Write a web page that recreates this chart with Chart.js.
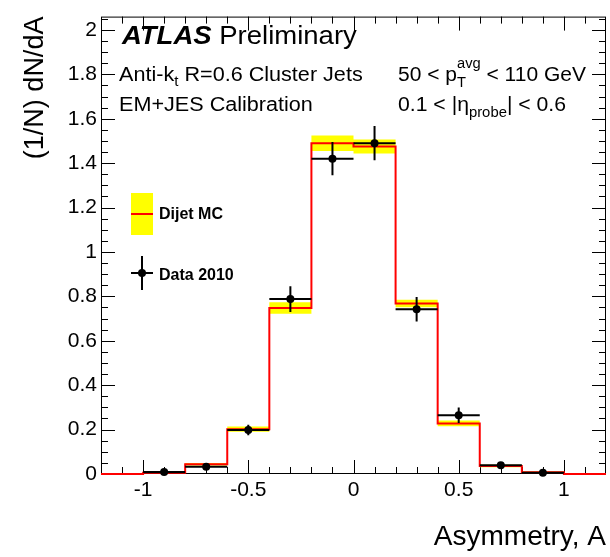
<!DOCTYPE html>
<html>
<head>
<meta charset="utf-8">
<script src="https://cdn.jsdelivr.net/npm/chart.js@4.4.1/dist/chart.umd.min.js"></script>
<style>
  html, body { margin: 0; padding: 0; background: #fff; }
  #wrap { width: 610px; height: 557px; }
</style>
</head>
<body>
<div id="wrap"><canvas id="asym"></canvas></div>
<script>
// histogram bins (asymmetry)
const binEdges = [-1.2, -1.0, -0.8, -0.6, -0.4, -0.2, 0.0, 0.2, 0.4, 0.6, 0.8, 1.0, 1.2];
const mcValues = [0, 0.006, 0.044, 0.202, 0.748, 1.490, 1.475, 0.768, 0.228, 0.036, 0.008, 0];
const mcErrors = [0, 0.002, 0.006, 0.012, 0.026, 0.035, 0.032, 0.017, 0.013, 0.006, 0.003, 0];

// data 2010 points
const dataCenters = [-0.9, -0.7, -0.5, -0.3, -0.1, 0.1, 0.3, 0.5, 0.7, 0.9];
const dataValues = [0.009, 0.033, 0.198, 0.788, 1.420, 1.490, 0.742, 0.265, 0.039, 0.006];
const dataErrors = [0.003, 0.008, 0.024, 0.058, 0.075, 0.077, 0.055, 0.035, 0.008, 0.003];
const binHalfWidth = 0.1;

const xTicks = [-1, -0.5, 0, 0.5, 1];
const yTicks = [0, 0.2, 0.4, 0.6, 0.8, 1.0, 1.2, 1.4, 1.6, 1.8, 2.0];

const FONT = '"Liberation Sans", Arial, Helvetica, sans-serif';

function steps(vals) {
    const pts = [];
    vals.forEach((v, i) => {
        pts.push({ x: binEdges[i], y: v }, { x: binEdges[i + 1], y: v });
    });
    return pts;
}

const bandHi = steps(mcValues.map((v, i) => v + mcErrors[i]));
const bandLo = steps(mcValues.map((v, i) => v - mcErrors[i]));
const mcLine = steps(mcValues);
const dataPts = dataCenters.map((x, i) => ({ x: x, y: dataValues[i] }));

// frame + inward ticks on all four sides, ROOT style
const rootFrame = {
    id: 'rootFrame',
    beforeDatasetsDraw(chart) {
        const { ctx, chartArea: a, scales: { x, y } } = chart;
        ctx.save();
        ctx.strokeStyle = '#000';
        ctx.lineWidth = 1;
        ctx.strokeRect(a.left + 0.5, a.top + 0.5, a.right - a.left - 1, a.bottom - a.top - 1);
        ctx.beginPath();
        for (let i = -11; i <= 11; i++) {
            const px = Math.round(x.getPixelForValue(i / 10)) + 0.5;
            const len = i % 5 === 0 ? 14 : 7;
            ctx.moveTo(px, a.bottom); ctx.lineTo(px, a.bottom - len);
            ctx.moveTo(px, a.top); ctx.lineTo(px, a.top + len);
        }
        for (let i = 1; i <= 41; i++) {
            const py = Math.round(y.getPixelForValue(i * 0.05)) + 0.5;
            const len = i % 4 === 0 ? 14 : 7;
            ctx.moveTo(a.left, py); ctx.lineTo(a.left + len, py);
            ctx.moveTo(a.right, py); ctx.lineTo(a.right - len, py);
        }
        ctx.stroke();
        ctx.restore();
    }
};

// error bars for the data points
const errorBars = {
    id: 'errorBars',
    afterDatasetsDraw(chart) {
        const { ctx, scales: { x, y } } = chart;
        ctx.save();
        ctx.strokeStyle = '#000';
        ctx.lineWidth = 2;
        ctx.beginPath();
        dataCenters.forEach((c, i) => {
            const v = dataValues[i], e = dataErrors[i];
            const py = y.getPixelForValue(v);
            const px = x.getPixelForValue(c);
            ctx.moveTo(x.getPixelForValue(c - binHalfWidth), py);
            ctx.lineTo(x.getPixelForValue(c + binHalfWidth), py);
            ctx.moveTo(px, y.getPixelForValue(v - e));
            ctx.lineTo(px, y.getPixelForValue(v + e));
        });
        ctx.stroke();
        ctx.restore();
    }
};

function drawRich(ctx, x, y, sx, parts) {
    ctx.save();
    ctx.translate(x, y);
    ctx.scale(sx, 1);
    let cx = 0;
    parts.forEach(p => {
        ctx.font = p.font;
        ctx.fillText(p.t, cx, p.dy || 0);
        if (!p.hold) cx += ctx.measureText(p.t).width;
    });
    ctx.restore();
}

// labels and legend
const annotations = {
    id: 'annotations',
    afterDraw(chart) {
        const ctx = chart.ctx;
        ctx.save();
        ctx.fillStyle = '#000';
        ctx.textBaseline = 'alphabetic';
        ctx.textAlign = 'left';
        const big = '25px ' + FONT, reg = '20px ' + FONT, small = '14px ' + FONT;
        drawRich(ctx, 122, 43.5, 1.1, [
            { t: 'ATLAS', font: 'italic bold 25px ' + FONT },
            { t: ' Preliminary', font: big }
        ]);
        drawRich(ctx, 119, 81, 1.08, [
            { t: 'Anti-k', font: reg },
            { t: 't', font: small, dy: 5 },
            { t: ' R=0.6 Cluster Jets', font: reg }
        ]);
        drawRich(ctx, 119, 110.5, 1.08, [{ t: 'EM+JES Calibration', font: reg }]);
        drawRich(ctx, 398, 81, 1.05, [
            { t: '50 < p', font: reg },
            { t: 'T', font: small, dy: 6, hold: true },
            { t: 'avg', font: small, dy: -13 },
            { t: ' < 110 GeV', font: reg }
        ]);
        drawRich(ctx, 398, 110.5, 1.06, [
            { t: '0.1 < |\u03b7', font: reg },
            { t: 'probe', font: small, dy: 6 },
            { t: '| < 0.6', font: reg }
        ]);

        // legend: Dijet MC
        ctx.fillStyle = '#ffff00';
        ctx.fillRect(131, 193, 22, 42);
        ctx.strokeStyle = '#ff0000';
        ctx.lineWidth = 2;
        ctx.beginPath();
        ctx.moveTo(131, 214); ctx.lineTo(153, 214);
        ctx.stroke();
        // legend: Data 2010
        ctx.strokeStyle = '#000';
        ctx.beginPath();
        ctx.moveTo(131, 273); ctx.lineTo(153, 273);
        ctx.moveTo(142, 256); ctx.lineTo(142, 290);
        ctx.stroke();
        ctx.fillStyle = '#000';
        ctx.beginPath();
        ctx.arc(142, 273, 4, 0, Math.PI * 2);
        ctx.fill();
        ctx.font = 'bold 16px ' + FONT;
        ctx.fillText('Dijet MC', 159, 219);
        ctx.fillText('Data 2010', 159, 279.5);
        ctx.restore();
    }
};

const ctx = document.getElementById('asym').getContext('2d');
new Chart(ctx, {
    type: 'line',
    data: {
        datasets: [
            {
                label: 'MC band high',
                data: bandHi,
                borderColor: 'rgba(0,0,0,0)',
                borderWidth: 0,
                backgroundColor: '#ffff00',
                fill: '+1',
                order: 3
            },
            {
                label: 'MC band low',
                data: bandLo,
                borderColor: 'rgba(0,0,0,0)',
                borderWidth: 0,
                fill: false,
                order: 4
            },
            {
                label: 'Dijet MC',
                data: mcLine,
                borderColor: '#ff0000',
                borderWidth: 2,
                fill: false,
                clip: 2,
                order: 1
            },
            {
                label: 'Data 2010',
                data: dataPts,
                showLine: false,
                pointRadius: 4,
                pointBackgroundColor: '#000',
                pointBorderWidth: 0,
                clip: 6,
                order: 0
            }
        ]
    },
    options: {
        responsive: true,
        maintainAspectRatio: false,
        animation: false,
        layout: { padding: { top: 16, right: 4, left: 0, bottom: 0 } },
        elements: {
            point: { radius: 0 },
            line: { tension: 0 }
        },
        scales: {
            x: {
                type: 'linear',
                min: -1.2,
                max: 1.2,
                grid: { display: false, drawTicks: false },
                border: { display: false },
                afterBuildTicks: s => { s.ticks = xTicks.map(v => ({ value: v })); },
                afterFit: s => { s.height = 83; },
                ticks: {
                    color: '#000',
                    padding: 4,
                    maxRotation: 0,
                    font: { family: FONT, size: 21 },
                    callback: v => String(Math.round(v * 10) / 10)
                },
                title: {
                    display: true,
                    text: 'Asymmetry, A',
                    align: 'end',
                    color: '#000',
                    font: { family: FONT, size: 28 },
                    padding: { top: 0, bottom: 3 }
                }
            },
            y: {
                min: 0,
                max: 2.06,
                grid: { display: false, drawTicks: false },
                border: { display: false },
                afterBuildTicks: s => { s.ticks = yTicks.map(v => ({ value: v })); },
                afterFit: s => { s.width = 101; },
                ticks: {
                    color: '#000',
                    padding: 4,
                    font: { family: FONT, size: 21 },
                    callback: v => String(Math.round(v * 10) / 10)
                },
                title: {
                    display: true,
                    text: '(1/N) dN/dA',
                    align: 'end',
                    color: '#000',
                    font: { family: FONT, size: 27 },
                    padding: { top: 19, bottom: 0 }
                }
            }
        },
        plugins: {
            legend: { display: false },
            tooltip: { enabled: false }
        }
    },
    plugins: [rootFrame, errorBars, annotations]
});
</script>
</body>
</html>
